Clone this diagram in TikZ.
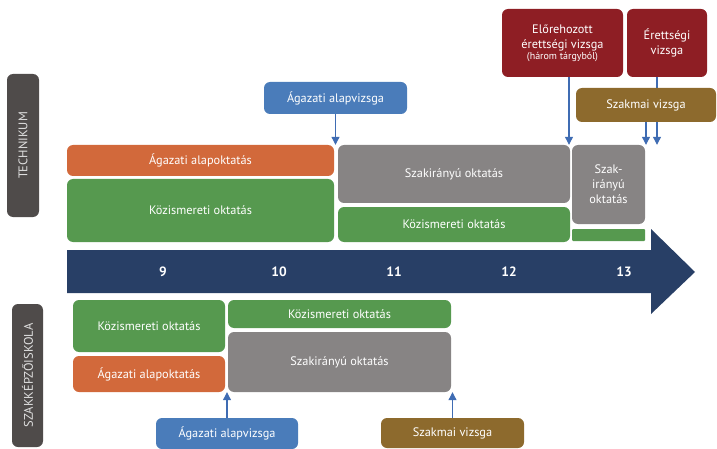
\documentclass[tikz,border=0pt]{standalone}
\usepackage{fontspec}
\setmainfont{PT Sans}
\usepackage{xcolor}
\usepackage{tikz}
\usetikzlibrary{arrows.meta}

\definecolor{agOrange}{HTML}{D2693B}
\definecolor{kozGreen}{HTML}{56994F}
\definecolor{szakGray}{HTML}{878484}
\definecolor{vizsBlue}{HTML}{4A7CBA}
\definecolor{eretRed}{HTML}{8E1E24}
\definecolor{szmBrown}{HTML}{8D6A2D}
\definecolor{timeNavy}{HTML}{283F66}
\definecolor{labDark}{HTML}{4F4B4A}
\definecolor{arrBlue}{HTML}{3F6CB3}

\begin{document}
\begin{tikzpicture}[x=1pt, y=-1pt,
	box/.style={rounded corners=6pt, inner sep=0pt, align=center, text=white,
		font=\fontsize{12.3}{15}\selectfont},
	sz/.style 2 args={minimum width=#1pt, minimum height=#2pt},
	lab/.style={box, fill=labDark, text=white!88!black, rotate=90,
		font=\fontsize{12.5}{14}\selectfont},
	year/.style={text=white, font=\fontsize{13.5}{15}\bfseries\selectfont},
	arr/.style={arrBlue, line width=1.1pt, -{Triangle[width=8pt, length=8pt]}}]
	\useasboundingbox (0,0) rectangle (717,449);

	\fill[timeNavy] (67,250) -- (651,250) -- (651,229) -- (695,272) -- (651,314)
		-- (651,293) -- (67,293) -- cycle;
	\node[year] (y9) at (163,271.5) {9};
	\node[year] (y10) at (279,271.5) {10};
	\node[year] (y11) at (394,271.5) {11};
	\node[year] (y12) at (509,271.5) {12};
	\node[year] (y13) at (624,271.5) {13};

	\node[lab, sz={143}{32}] (tech) at (23,145.5) {TECHNIKUM};
	\node[lab, sz={143}{31}] (szki) at (27.5,375.5) {SZAKKÉPZŐISKOLA};

	\node[box, fill=vizsBlue, sz={143}{32}] (tvizsga) at (335.5,98) {Ágazati alapvizsga};
	\node[box, fill=agOrange, sz={267}{31}] (tagazat) at (200.5,160.5) {Ágazati alapoktatás};
	\node[box, fill=kozGreen, sz={267}{63}] (tkoz) at (200.5,210.5) {Közismereti oktatás};
	\node[box, fill=szakGray, sz={232}{58}] (tszak) at (454,174) {Szakirányú oktatás};
	\node[box, fill=kozGreen, sz={232}{35}] (tkoz2) at (454,224.5) {Közismereti oktatás};
	\node[box, fill=szakGray, sz={73}{79}] (tszak2) at (608.5,184.5) {Szak-\\irányú\\oktatás};
	\node[fill=kozGreen, rounded corners=1pt, inner sep=0pt, sz={73}{12}] (tkoz3) at (608.5,235) {};

	\node[box, fill=eretRed, sz={121}{68}] (elore) at (562.5,43)
		{Előrehozott\\érettségi vizsga\\[-4pt]{\fontsize{10}{11}\selectfont(három tárgyból)}};
	\node[box, fill=eretRed, sz={80}{68}] (eret) at (667,43) {Érettségi\\vizsga};
	\draw[arr] ([xshift=-10pt]eret.south) -- ([xshift=-10pt]eret.south |- tszak2.north);
	\node[box, fill=szmBrown, sz={140}{34}] (tszakmai) at (646,105) {Szakmai vizsga};

	\draw[arr] (tvizsga.south) -- (tvizsga.south |- tszak.north);
	\draw[arr] ([xshift=6.5pt]elore.south) -- ([xshift=6.5pt]elore.south |- tszak.north);
	\draw[arr] (tszakmai.south) -- (tszakmai.south |- tszak2.north);

	\node[box, fill=kozGreen, sz={152}{52}] (bkoz) at (149,326) {Közismereti oktatás};
	\node[box, fill=agOrange, sz={152}{36}] (bagazat) at (149,374) {Ágazati alapoktatás};
	\node[box, fill=kozGreen, sz={223}{28}] (bkoz2) at (339.5,314) {Közismereti oktatás};
	\node[box, fill=szakGray, sz={223}{60}] (bszak) at (339.5,362) {Szakirányú oktatás};

	\node[box, fill=vizsBlue, sz={142}{31}] (bvizsga) at (227,433.5) {Ágazati alapvizsga};
	\node[box, fill=szmBrown, sz={143}{30}] (bszakmai) at (452.5,433) {Szakmai vizsga};

	\draw[arr] (bvizsga.north) -- (bvizsga.north |- bszak.south);
	\draw[arr] (bszakmai.north) -- (bszakmai.north |- bszak.south);
\end{tikzpicture}
\end{document}
